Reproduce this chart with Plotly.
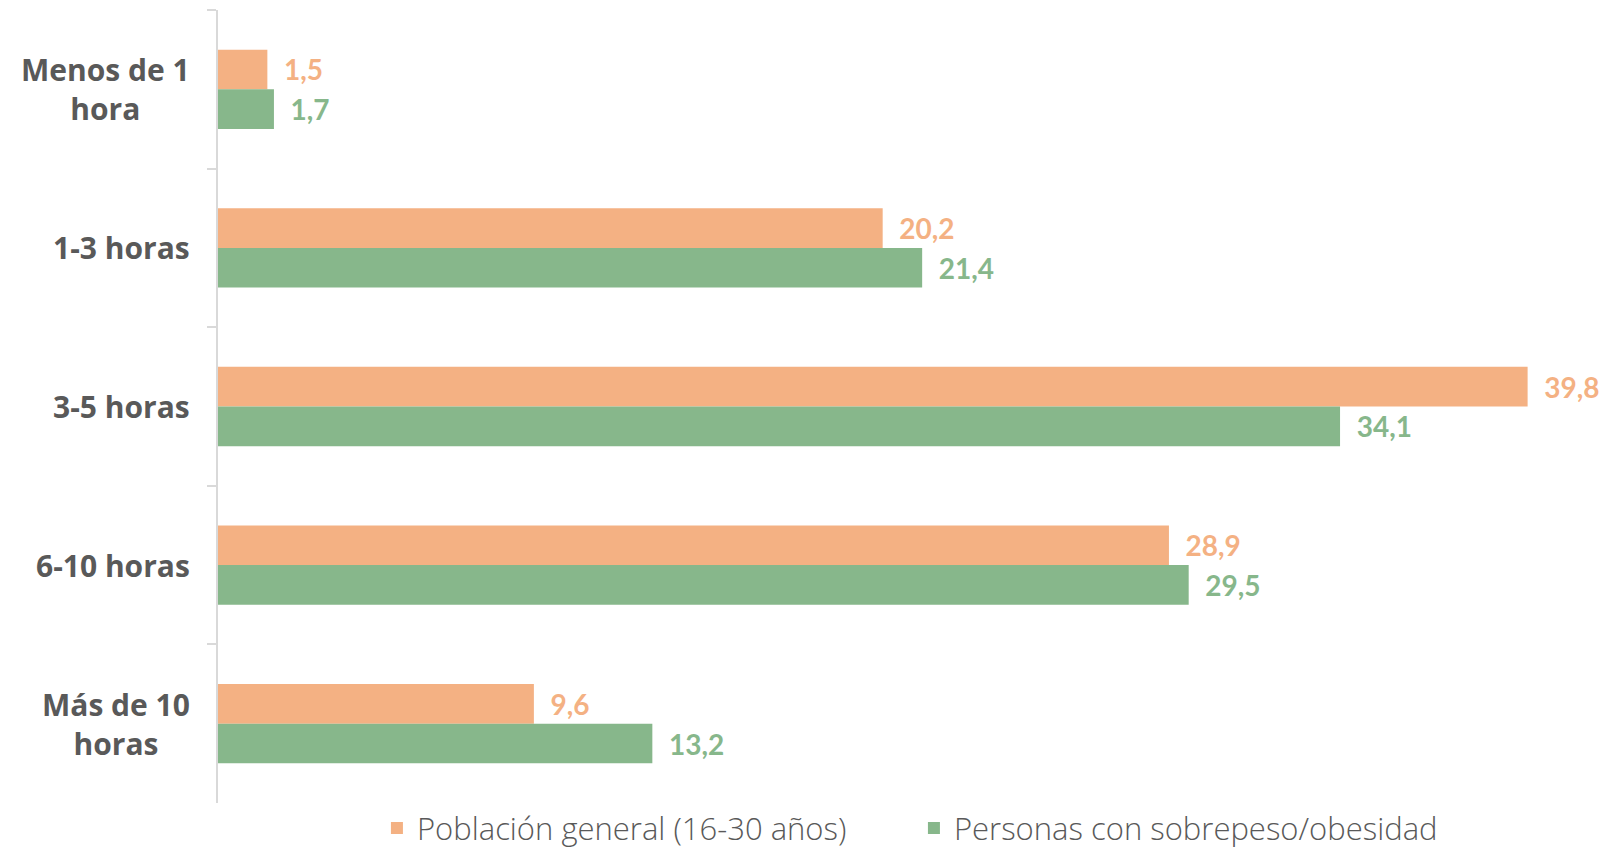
import plotly.graph_objects as go

categories = ["Menos de 1 hora", "1-3 horas", "3-5 horas", "6-10 horas", "Más de 10 horas"]
category_labels = ["Menos de 1<br>hora", "1-3 horas", "3-5 horas", "6-10 horas", "Más de 10<br>horas"]
series_names = ["Población general (16-30 años)", "Personas con sobrepeso/obesidad"]
poblacion_general = [1.5, 20.2, 39.8, 28.9, 9.6]
sobrepeso_obesidad = [1.7, 21.4, 34.1, 29.5, 13.2]

ORANGE = "#F4B183"
GREEN = "#87B78B"
DARK = "#595959"

fig = go.Figure()
for name, vals, col in [(series_names[0], poblacion_general, ORANGE),
                        (series_names[1], sobrepeso_obesidad, GREEN)]:
    fig.add_trace(go.Bar(
        y=categories, x=vals, name=name, orientation="h",
        marker=dict(color=col, line=dict(width=0)),
        texttemplate="\u00a0\u00a0%{x:.1f}",
        textposition="outside", constraintext="none", cliponaxis=False,
        textfont=dict(family="Lato", size=28, color=col, weight="bold"),
        hoverinfo="skip",
    ))

for cat, lab in zip(categories, category_labels):
    fig.add_annotation(
        x=0, xref="paper", y=cat, yref="y", text=lab, showarrow=False,
        xanchor="right", yanchor="middle", align="center", xshift=-26,
        font=dict(family="Open Sans", size=30, color=DARK, weight="bold"),
    )

fig.update_layout(
    width=1606, height=849,
    margin=dict(l=218, r=6, t=10, b=46, autoexpand=False),
    paper_bgcolor="white", plot_bgcolor="white",
    barmode="group", bargap=0.5, bargroupgap=0,
    separators=",.",
    showlegend=True,
    legend=dict(orientation="h", xanchor="left", x=0.115, yanchor="bottom", y=-0.066,
                font=dict(family="Open Sans", size=31, color=DARK, weight=300),
                itemwidth=30, entrywidth=492),
    xaxis=dict(visible=False, range=[0, 42], fixedrange=True),
    yaxis=dict(type="category", categoryorder="array", categoryarray=categories,
               autorange="reversed", showline=True, linecolor="#D9D9D9", linewidth=2,
               ticks="outside", tickson="boundaries", ticklen=9, tickcolor="#D9D9D9",
               tickwidth=2, showticklabels=False, showgrid=False, zeroline=False),
)

fig.write_html("out.html", config={"displayModeBar": False},
               post_script="document.body.style.margin='0';document.body.style.overflow='hidden';")
